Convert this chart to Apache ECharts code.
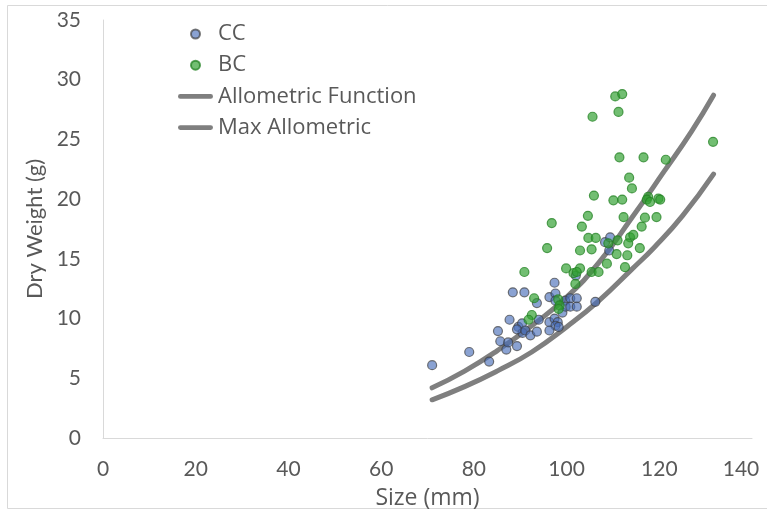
<!DOCTYPE html>
<html>
<head>
<meta charset="utf-8">
<script src="https://cdn.jsdelivr.net/npm/echarts@6/dist/echarts.min.js"></script>
<style>
  html, body { margin: 0; padding: 0; background: #fff; }
  #chart { width: 767px; height: 516px; }
</style>
</head>
<body>
<div id="chart"></div>
<script>
// Snail size (mm) vs dry weight (g), two sites plus allometric curves
const ccSize = [71.0, 79.0, 83.3, 85.2, 85.7, 87.0, 87.4, 89.3, 87.7, 88.4, 90.9, 89.6, 90.4, 90.5, 89.3, 91.1, 92.2, 93.6, 94.0, 93.6, 96.3, 97.6, 97.6, 97.4, 96.3, 97.4, 98.1, 97.6, 96.3, 98.3, 99.1, 99.7, 99.8, 100.8, 102.2, 100.8, 102.2, 102.0, 106.2, 108.3, 109.4, 109.2];
const ccWeight = [6.1, 7.2, 6.4, 8.95, 8.1, 7.4, 8.0, 7.7, 9.9, 12.2, 12.2, 9.3, 9.6, 8.8, 9.1, 9.0, 8.6, 8.9, 9.9, 11.3, 11.8, 12.1, 11.5, 13.0, 9.7, 10.0, 9.7, 9.4, 9.0, 9.3, 10.5, 11.5, 11.0, 11.7, 11.7, 11.0, 11.0, 13.6, 11.4, 16.4, 16.8, 15.7];

const bcSize = [90.9, 95.8, 93.0, 92.5, 91.8, 98.2, 98.5, 98.3, 96.8, 99.9, 101.5, 102.9, 102.2, 101.9, 105.4, 106.9, 102.9, 105.4, 104.7, 106.3, 103.3, 104.6, 105.9, 105.6, 110.5, 112.0, 111.2, 108.7, 109.0, 111.0, 110.8, 113.1, 112.6, 113.7, 114.4, 113.3, 115.8, 116.2, 112.3, 116.9, 119.4, 110.1, 112.0, 117.6, 117.3, 118.0, 119.8, 120.2, 113.5, 114.1, 111.4, 116.6, 121.4, 131.6];
const bcWeight = [13.9, 15.9, 11.7, 10.3, 9.9, 11.6, 11.1, 10.8, 18.0, 14.2, 13.8, 14.2, 13.9, 12.9, 13.9, 13.9, 15.7, 15.8, 16.75, 16.75, 17.7, 18.6, 20.3, 26.9, 28.6, 28.8, 27.3, 14.6, 16.3, 16.55, 15.4, 15.3, 14.3, 16.8, 17.0, 16.3, 15.9, 17.7, 18.5, 18.45, 18.5, 19.9, 19.96, 20.2, 19.96, 19.76, 20.04, 19.96, 21.8, 20.9, 23.5, 23.5, 23.3, 24.8];

const allomSize = [71, 78, 85, 92.5, 100, 107, 114, 121, 127, 131.7];
const allomWeight = [4.2, 5.6, 7.3, 9.4, 11.8, 14.7, 18.4, 22.3, 25.7, 28.7];

const maxSize = [71, 78, 85, 92.5, 100, 107, 114, 119, 125, 131.7];
const maxWeight = [3.2, 4.3, 5.6, 7.2, 9.3, 11.5, 14.1, 16.0, 18.6, 22.1];

const xTicks = [0, 20, 40, 60, 80, 100, 120, 140];
const yTicks = [0, 5, 10, 15, 20, 25, 30, 35];

const pairs = (xs, ys) => xs.map((x, i) => [x, ys[i]]);

const FONT = '"Open Sans"';
const FONT_V = 'Lato';
const TEXT = '#595959';
const AXIS = '#d9d9d9';
const CURVE = '#7f7f7f';
// thick rounded bar used as the legend icon of the two curves
const LINE_ICON = 'path://M2.5,0 L35.5,0 A2.5,2.5 0 0 1 35.5,5 L2.5,5 A2.5,2.5 0 0 1 2.5,0 Z';
const xMax = xTicks[xTicks.length - 1];

const chart = echarts.init(document.getElementById('chart'), null, { renderer: 'canvas' });

chart.setOption({
  animation: false,
  backgroundColor: '#fff',
  textStyle: { fontFamily: FONT, color: TEXT },
  graphic: [{
    type: 'rect',
    shape: { x: 7.5, y: 5.5, width: 800, height: 503 },
    style: { fill: 'none', stroke: AXIS, lineWidth: 1 },
    silent: true,
    z: -10
  }],
  grid: { left: 103, top: 20, right: 15, bottom: 78, containLabel: false },
  legend: {
    orient: 'vertical',
    left: 178,
    top: 23,
    padding: 0,
    itemWidth: 35,
    itemHeight: 9,
    itemGap: 9.2,
    textStyle: { fontFamily: FONT, fontSize: 22, color: TEXT },
    data: [
      { name: 'CC', icon: 'circle' },
      { name: 'BC', icon: 'circle' },
      { name: 'Allometric Function', icon: LINE_ICON, itemStyle: { color: CURVE, borderWidth: 0 } },
      { name: 'Max Allometric', icon: LINE_ICON, itemStyle: { color: CURVE, borderWidth: 0 } }
    ]
  },
  xAxis: {
    type: 'value',
    min: xTicks[0],
    max: xMax,
    interval: xTicks[1] - xTicks[0],
    name: 'Size (mm)',
    nameLocation: 'middle',
    nameGap: 49,
    nameTextStyle: { fontFamily: FONT, fontSize: 23, color: TEXT },
    axisLine: { show: true, lineStyle: { color: AXIS, width: 1 } },
    axisTick: { show: false },
    splitLine: { show: false },
    axisLabel: {
      fontFamily: FONT_V, fontSize: 21, color: TEXT, margin: 21,
      // last label is pulled inside the chart edge
      formatter: (v) => (v === xMax ? '{last|' + v + '}' : String(v)),
      rich: { last: { fontFamily: FONT_V, fontSize: 21, color: TEXT, padding: [0, 22, 0, 0] } }
    }
  },
  yAxis: {
    type: 'value',
    min: yTicks[0],
    max: yTicks[yTicks.length - 1],
    interval: yTicks[1] - yTicks[0],
    name: 'Dry Weight (g)',
    nameLocation: 'middle',
    nameGap: 56,
    nameTextStyle: { fontFamily: FONT_V, fontSize: 22, color: TEXT },
    axisLine: { show: true, lineStyle: { color: AXIS, width: 1 } },
    axisTick: { show: false },
    splitLine: { show: false },
    axisLabel: { fontFamily: FONT_V, fontSize: 21, color: TEXT, margin: 22 }
  },
  series: [
    {
      name: 'Allometric Function',
      type: 'line',
      smooth: true,
      symbol: 'none',
      data: pairs(allomSize, allomWeight),
      lineStyle: { color: CURVE, width: 5, cap: 'round' },
      itemStyle: { color: CURVE },
      z: 2
    },
    {
      name: 'Max Allometric',
      type: 'line',
      smooth: true,
      symbol: 'none',
      data: pairs(maxSize, maxWeight),
      lineStyle: { color: CURVE, width: 5, cap: 'round' },
      itemStyle: { color: CURVE },
      z: 2
    },
    {
      name: 'CC',
      type: 'scatter',
      symbolSize: 9,
      data: pairs(ccSize, ccWeight),
      itemStyle: { color: 'rgba(72,110,184,0.8)', borderColor: 'rgba(60,60,60,0.85)', borderWidth: 1.2 },
      z: 3
    },
    {
      name: 'BC',
      type: 'scatter',
      symbolSize: 9,
      data: pairs(bcSize, bcWeight),
      itemStyle: { color: 'rgba(48,160,48,0.85)', borderColor: 'rgba(36,130,36,0.95)', borderWidth: 1.2 },
      z: 4
    }
  ]
});
</script>
</body>
</html>
